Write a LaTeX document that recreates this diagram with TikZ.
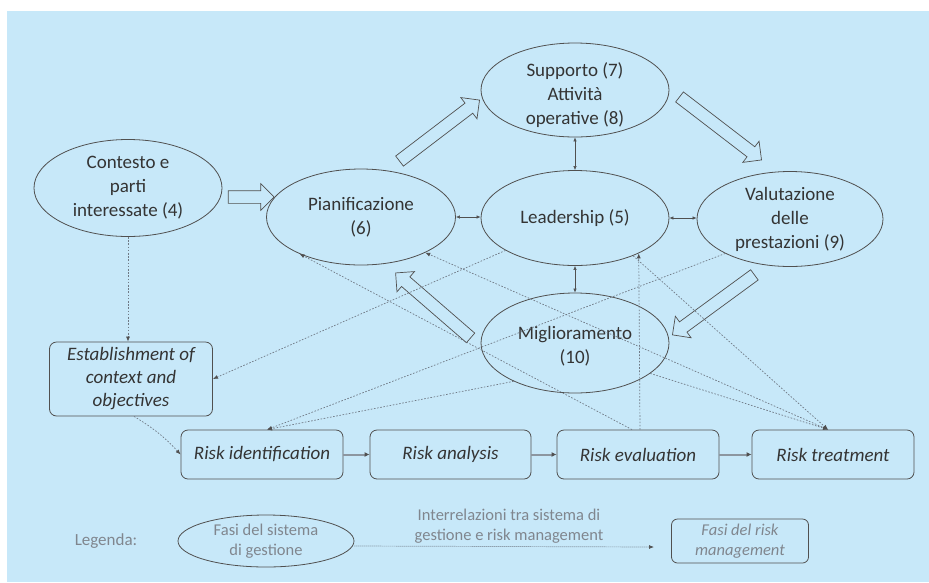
\documentclass[tikz,border=0pt]{standalone}
\usepackage{fontspec}
\setmainfont{Carlito}
\usetikzlibrary{shapes.geometric,shapes.arrows,arrows.meta,calc}
\definecolor{bgblue}{RGB}{199,232,249}
\definecolor{lineg}{RGB}{80,80,80}
\definecolor{txtg}{RGB}{52,52,52}
\definecolor{dotg}{RGB}{112,122,134}
\definecolor{legg}{RGB}{128,134,142}
\definecolor{flowg}{RGB}{140,150,160}
\newcommand\blockarr[2]{\path let \p1=($(#2)-(#1)$) in (#1) -- (#2) node[bigarrow, midway, sloped, allow upside down, minimum height={veclen(\x1,\y1)}] {};}
\begin{document}
\begin{tikzpicture}[x=1pt,y=-1pt,
  ell/.style={ellipse, draw=lineg, line width=0.8pt, inner sep=0pt},
  etxt/.style={align=center, text=txtg, font=\fontsize{19}{24}\selectfont, inner sep=0pt},
  rbox/.style={draw=lineg, line width=0.8pt, rounded corners=7pt, minimum height=49pt, minimum width=162pt, inner sep=0pt, align=center, text=txtg, font=\fontsize{19}{23}\selectfont\itshape},
  legtxt/.style={align=center, text=legg, font=\fontsize{16.5}{20}\selectfont, inner sep=0pt},
  lbox/.style={draw=lineg, line width=0.8pt, rounded corners=6pt, inner sep=0pt, align=center, text=legg, font=\fontsize{16.5}{20}\selectfont\itshape},
  bigarrow/.style={single arrow, draw=lineg, line width=0.7pt, inner xsep=0pt, inner ysep=6pt, single arrow head extend=7pt, single arrow head indent=0pt},
  dbl/.style={lineg, line width=0.6pt, {Latex[length=4pt,width=3.5pt]}-{Latex[length=4pt,width=3.5pt]}},
  rel/.style={dotg, line width=0.7pt, dash pattern=on 1.6pt off 1.6pt, -{Latex[length=5pt,width=4pt,color=lineg]}},
  flow/.style={flowg, line width=2pt, -{Latex[length=5pt,width=5pt,color=lineg]}},
]
\useasboundingbox (0,0) rectangle (929,582);
\fill[white] (0,0) rectangle (929,582);
\fill[bgblue] (7,11) rectangle (929,582);

% management system ellipses
\node[ell, minimum width=188pt, minimum height=97pt, label={[etxt]center:{Contesto e\\parti\\interessate (4)}}] (contesto) at (128,188) {};
\node[ell, minimum width=189pt, minimum height=96pt, label={[etxt]center:{Pianificazione\\(6)}}] (pian) at (361,217) {};
\node[ell, minimum width=188pt, minimum height=95pt, label={[etxt]center:{Leadership (5)}}] (lead) at (575,218) {};
\node[ell, minimum width=188pt, minimum height=94pt, label={[etxt, yshift=-5pt]center:{Supporto (7)\\Attività\\operative (8)}}] (supp) at (575,90) {};
\node[ell, minimum width=186pt, minimum height=95pt, label={[etxt]center:{Valutazione\\delle\\prestazioni (9)}}] (valut) at (790,219) {};
\node[ell, minimum width=188pt, minimum height=100pt, label={[etxt, yshift=-3pt]center:{Miglioramento\\(10)}}] (migl) at (575,343) {};

% risk management boxes
\node[rbox, minimum width=163pt, minimum height=74pt] (estab) at (131,379) {Establishment of\\context and\\objectives};
\node[rbox] (rid) at (262,454.5) {Risk identification};
\node[rbox, minimum width=161pt] (ran) at (450.5,454.5) {Risk analysis};
\node[rbox] (rev) at (638,454.5) {Risk evaluation};
\node[rbox] (rtr) at (833,454.5) {Risk treatment};

% block arrows (PDCA cycle)
\coordinate (a1t) at (225,197); \coordinate (a1h) at (271,197);
\coordinate (a2t) at (397,163); \coordinate (a2h) at (477,102);
\coordinate (a3t) at (677,95);  \coordinate (a3h) at (759,158);
\coordinate (a4t) at (757,273); \coordinate (a4h) at (675,333);
\coordinate (a5t) at (473,340); \coordinate (a5h) at (398,275);
\blockarr{a1t}{a1h}
\blockarr{a2t}{a2h}
\blockarr{a3t}{a3h}
\blockarr{a4t}{a4h}
\blockarr{a5t}{a5h}

% double arrows around leadership
\draw[dbl] (pian.east) -- (pian.east -| lead.west);
\draw[dbl] (lead.east) -- (lead.east -| valut.west);
\draw[dbl] (supp.south) -- (supp.south |- lead.north);
\draw[dbl] (lead.south) -- (lead.south |- migl.north);

% risk management flow
\draw[flow] (rid.east) -- (ran.west);
\draw[flow] (ran.east) -- (rev.west);
\draw[flow] (rev.east) -- (rtr.west);

% interrelations
\draw[rel] (contesto.south) -- (contesto.south |- estab.north);
\draw[rel] ([xshift=3pt]estab.south) to[bend left=8] (rid.west);
\draw[rel] (lead.205) -- (estab.east);
\draw[rel] (valut.208) -- ([xshift=5pt]rid.north);
\draw[rel] (migl.212) -- ([xshift=5pt]rid.north);
\draw[rel] ([xshift=-6pt]rev.north) -- (pian.211);
\draw[rel] ([xshift=2pt]rev.north) -- (lead.331);
\draw[rel] ([xshift=-5pt]rtr.north) -- (pian.331);
\draw[rel] (lead.327) -- ([xshift=-5pt]rtr.north);
\draw[rel] (migl.338) -- ([xshift=-5pt]rtr.north);

% legend
\node[legtxt, font=\fontsize{17}{20}\selectfont] (legenda) at (106,541) {Legenda:};
\node[ell, minimum width=176pt, minimum height=52pt, label={[legtxt]center:{Fasi del sistema\\di gestione}}] (legell) at (266,541) {};
\node[lbox, minimum width=137pt, minimum height=44pt] (legbox) at (740,541) {Fasi del risk\\management};
\node[legtxt] (interrel) at (509,526) {Interrelazioni tra sistema di\\gestione e risk management};
\coordinate (legend-end) at (654,547);
\draw[rel, dash pattern=on 1pt off 1pt] ([yshift=-5pt]legell.east) -- (legend-end);
\end{tikzpicture}
\end{document}
